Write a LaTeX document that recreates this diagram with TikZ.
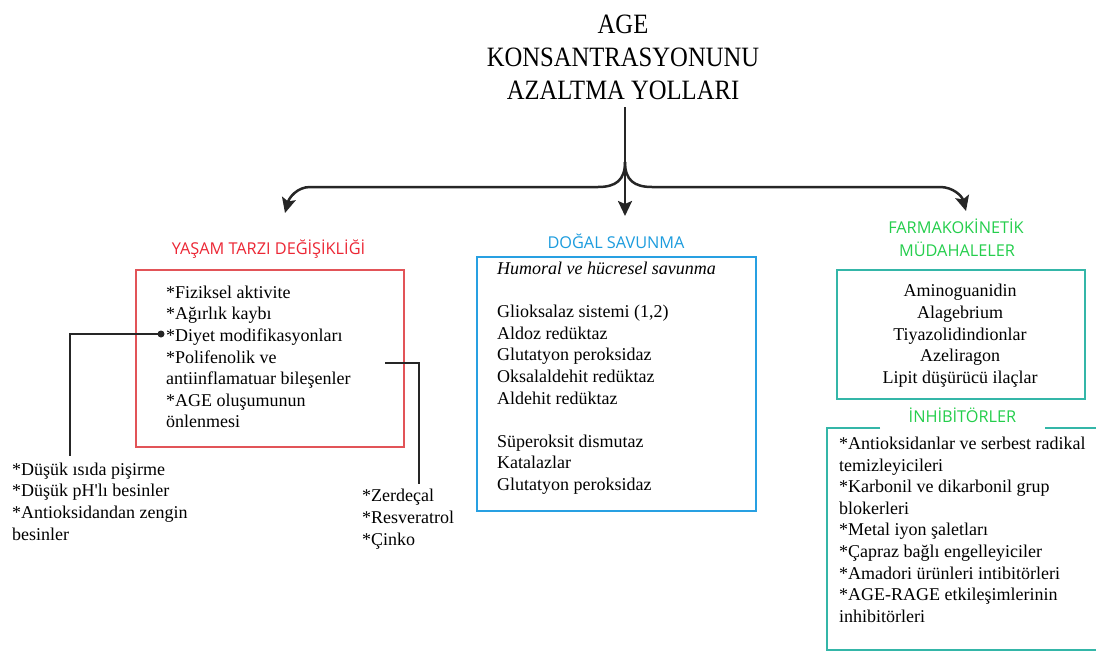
\documentclass[tikz,border=0pt]{standalone}
\usepackage{fontspec}
\setmainfont{Liberation Serif}
\newfontfamily\headfont{Open Sans}
\usetikzlibrary{arrows.meta}
\definecolor{hred}{RGB}{236,38,52}
\definecolor{bred}{RGB}{226,84,88}
\definecolor{hblue}{RGB}{28,156,222}
\definecolor{bblue}{RGB}{40,160,226}
\definecolor{hgreen}{RGB}{36,206,76}
\definecolor{bteal}{RGB}{52,182,168}
\begin{document}
\begin{tikzpicture}[x=1pt,y=-1pt,
  body/.style={inner sep=0pt, font=\fontsize{18}{21.6}\selectfont},
  heading/.style={inner sep=0pt, anchor=base, font=\headfont\fontsize{16.3}{24}\selectfont},
  boxline/.style={line width=2.5pt},
  conn/.style={line width=2.5pt, draw=black!85},
  arr/.style={conn, -{Stealth[length=15pt,width=14pt,inset=3pt]}},
  lead/.style={line width=2pt, draw=black!85}]
\useasboundingbox (0,0) rectangle (1096,653);
\fill[white] (0,0) rectangle (1096,653);
\clip (0,0) rectangle (1096,653);

% title
\node[anchor=north, inner sep=0pt, align=center, font=\fontsize{28}{33}\selectfont] (title) at (623,9.9)
  {\strut\scalebox{0.88}[1]{AGE}\\\strut\scalebox{0.88}[1]{KONSANTRASYONUNU}\\\strut\scalebox{0.88}[1]{AZALTMA YOLLARI}};

% arrows
\coordinate (top) at (625,107);
\coordinate (split) at (625,162);
\coordinate (tipC) at (625,216);
\coordinate (tipL) at (285,213);
\coordinate (tipR) at (966,211);
\draw[arr] (top) -- (tipC);
\draw[arr] (split) .. controls (625,180) and (616,187) .. (598,187) -- (310,187) .. controls (297,187) and (289,198) .. (tipL);
\draw[arr] (split) .. controls (625,180) and (634,187) .. (652,187) -- (940,187) .. controls (953,187) and (962,196) .. (tipR);

% headings
\node[heading, text=hred] (hyasam) at (268.5,254.5) {YAŞAM TARZI DEĞİŞİKLİĞİ};
\node[heading, text=hblue] (hdogal) at (616,248.3) {DOĞAL SAVUNMA};
\node[heading, text=hgreen] (hfarma) at (956,233.3) {FARMAKOKİNETİK};
\node[heading, text=hgreen] (hmudah) at (957,256.7) {MÜDAHALELER};
\node[heading, text=hgreen] (hinhib) at (962.5,422.7) {İNHİBİTÖRLER};

% boxes
\node[draw=bred, boxline, minimum width=268pt, minimum height=177pt, inner sep=0pt] (redbox) at (270,358.5) {};
\node[draw=bblue, boxline, minimum width=279pt, minimum height=254pt, inner sep=0pt] (bluebox) at (616.5,384) {};
\node[draw=bteal, boxline, minimum width=248pt, minimum height=129pt, inner sep=0pt] (farmabox) at (961,334.5) {};
\coordinate (inhA) at (880,428);
\coordinate (inhB) at (827,428);
\coordinate (inhC) at (827,650);
\coordinate (inhD) at (1110,650);
\coordinate (inhE) at (1045,428);
\coordinate (inhF) at (1110,428);
\draw[draw=bteal, boxline] (inhA) -- (inhB) -- (inhC) -- (inhD);
\draw[draw=bteal, boxline] (inhE) -- (inhF);

% texts
\node[body, anchor=north west, align=left] (redtext) at (166,282.9)
  {\strut*Fiziksel aktivite\\\strut*Ağırlık kaybı\\\strut*Diyet modifikasyonları\\\strut*Polifenolik ve\\\strut antiinflamatuar bileşenler\\\strut*AGE oluşumunun\\\strut önlenmesi};
\node[body, anchor=north west, align=left] (lowleft) at (12,459.9)
  {\strut*Düşük ısıda pişirme\\\strut*Düşük pH\textquotesingle lı besinler\\\strut*Antioksidandan zengin\\\strut besinler};
\node[body, anchor=north west, align=left] (lowright) at (362,486.6)
  {\strut*Zerdeçal\\\strut*Resveratrol\\\strut*Çinko};
\node[body, anchor=north west, align=left] (bluetext) at (497,259.2)
  {\strut\textit{Humoral ve hücresel savunma}\\\strut\\\strut Glioksalaz sistemi (1,2)\\\strut Aldoz redüktaz\\\strut Glutatyon peroksidaz\\\strut Oksalaldehit redüktaz\\\strut Aldehit redüktaz\\\strut\\\strut Süperoksit dismutaz\\\strut Katalazlar\\\strut Glutatyon peroksidaz};
\node[body, anchor=north, align=center] (farmatext) at (960,281.5)
  {\strut Aminoguanidin\\\strut Alagebrium\\\strut Tiyazolidindionlar\\\strut Azeliragon\\\strut Lipit düşürücü ilaçlar};
\node[body, anchor=north west, align=left] (inhtext) at (839,434.2)
  {\strut*Antioksidanlar ve serbest radikal\\\strut temizleyicileri\\\strut*Karbonil ve dikarbonil grup\\\strut blokerleri\\\strut*Metal iyon şaletları\\\strut*Çapraz bağlı engelleyiciler\\\strut*Amadori ürünleri intibitörleri\\\strut*AGE-RAGE etkileşimlerinin\\\strut inhibitörleri};

% leaders
\node[circle, fill=black!85, inner sep=0pt, minimum size=7pt] (dot) at (161,334) {};
\coordinate (llend) at (70,456);
\draw[lead] (dot.center) -| (llend);
\coordinate (rstart) at (385,363);
\coordinate (rend) at (419,484);
\draw[lead] (rstart) -| (rend);
\end{tikzpicture}
\end{document}
